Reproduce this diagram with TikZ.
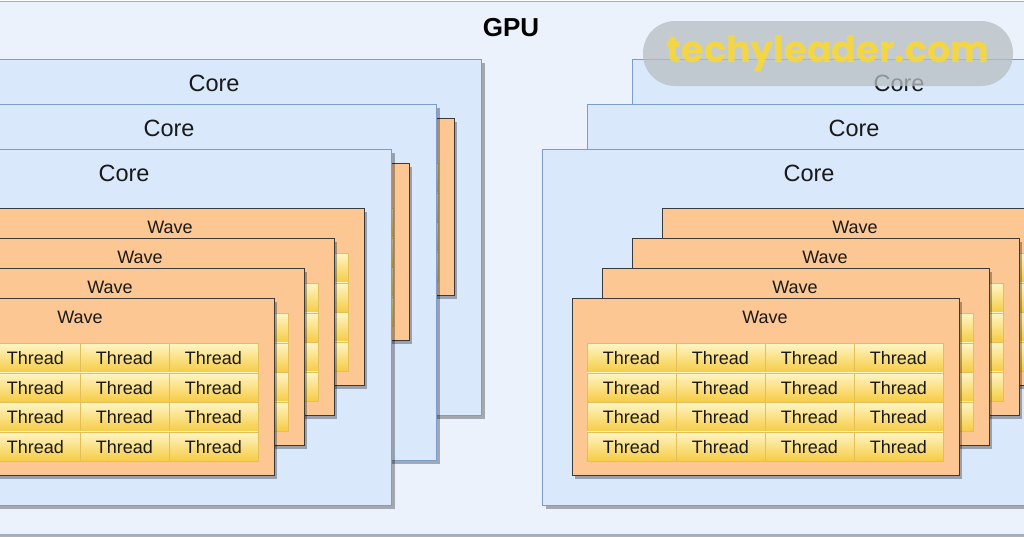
\documentclass[tikz,border=0pt]{standalone}
\usepackage{fontspec}
\setmainfont{Liberation Sans}
\newfontfamily\wmfont{Poppins}
\usetikzlibrary{shadows}
\definecolor{gpufill}{HTML}{EBF2FC}
\definecolor{gpuline}{HTML}{9AB0CF}
\definecolor{corefill}{HTML}{DAE8FC}
\definecolor{coreline}{HTML}{7C9DCB}
\definecolor{wavefill}{HTML}{FCC792}
\definecolor{waveline}{HTML}{3A3A3A}
\definecolor{thrtop}{HTML}{FFF5C4}
\definecolor{thrbot}{HTML}{F6CB43}
\definecolor{thrline}{HTML}{E2BF58}
\definecolor{wmgray}{HTML}{B8BEC2}
\definecolor{wmyellow}{HTML}{F8D838}
\tikzset{
  myshadow/.style={drop shadow={shadow xshift=3pt, shadow yshift=-3pt, opacity=0.3, fill=black}},
  gpubox/.style={rectangle, inner sep=0pt, anchor=north west, fill=gpufill, draw=gpuline, line width=1.2pt, myshadow},
  corebox/.style={rectangle, inner sep=0pt, anchor=north west, fill=corefill, draw=coreline, line width=1pt, minimum width=534pt, minimum height=356pt, myshadow},
  wavebox/.style={rectangle, inner sep=0pt, anchor=north west, fill=wavefill, draw=waveline, line width=1.2pt, minimum width=387pt, minimum height=177pt, myshadow},
  threadcell/.style={rectangle, inner sep=0pt, anchor=north west, top color=thrtop, bottom color=thrbot, draw=thrline, line width=0.8pt, minimum width=89pt, minimum height=29.5pt, font=\fontsize{18}{18}\selectfont, text=black!90},
  corelabel/.style={font=\fontsize{23.5}{24}\selectfont, text=black!90},
  wavelabel/.style={font=\fontsize{18}{18}\selectfont, text=black!90},
  gpulabel/.style={font=\fontsize{26}{26}\selectfont\bfseries, text=black},
  wmpill/.style={rectangle, rounded corners=32pt, fill=wmgray, fill opacity=0.75, draw=none, minimum width=370pt, minimum height=65pt, inner sep=0pt},
  wmtext/.style={font=\wmfont\fontsize{36.5}{36.5}\selectfont\bfseries, text=wmyellow, text opacity=0.9},
}
\begin{document}
\begin{tikzpicture}[x=1pt, y=-1pt]
\useasboundingbox (0,0) rectangle (1024,536);
\clip (0,0) rectangle (1024,536);
\node[gpubox, minimum width=1080pt, minimum height=533.5pt] (gpu) at (-30,0.8) {};
\node[gpulabel] (gpulab) at (511,28) {GPU};
\foreach \cx/\cn in {-143/L, 542/R} {
  \foreach \k in {0,1,2} {
    \pgfmathsetmacro\myoff{45*(2-\k)}
    \pgfmathsetmacro\myX{\cx+\myoff}
    \pgfmathsetmacro\myY{149-\myoff}
    \node[corebox] (core\cn\k) at (\myX,\myY) {};
    \node[corelabel] (corelab\cn\k) at (\myX+267,\myY+24) {Core};
    \foreach \w in {0,1,2,3} {
      \pgfmathsetmacro\mywoff{30*(3-\w)}
      \pgfmathsetmacro\myWX{\myX+29.5+\mywoff}
      \pgfmathsetmacro\myWY{\myY+149-\mywoff}
      \node[wavebox] (wave\cn\k\w) at (\myWX,\myWY) {};
      \ifnum\k=2
        \node[wavelabel] (wavelab\cn\k\w) at (\myWX+193.5,\myWY+19) {Wave};
      \fi
      \foreach \r in {0,1,2,3} {
        \foreach \c in {0,1,2,3} {
          \ifnum\k\w=23
            \node[threadcell] (t\cn\k\w\r\c) at (\myWX+15+89*\c,\myWY+45+29.5*\r) {Thread};
          \else
            \node[threadcell] (t\cn\k\w\r\c) at (\myWX+15+89*\c,\myWY+45+29.5*\r) {};
          \fi
        }
      }
    }
  }
}
\node[wmpill] (wm) at (828,53.5) {};
\node[wmtext] (wmlab) at (828,54) {techyleader.com};
\end{tikzpicture}
\end{document}
